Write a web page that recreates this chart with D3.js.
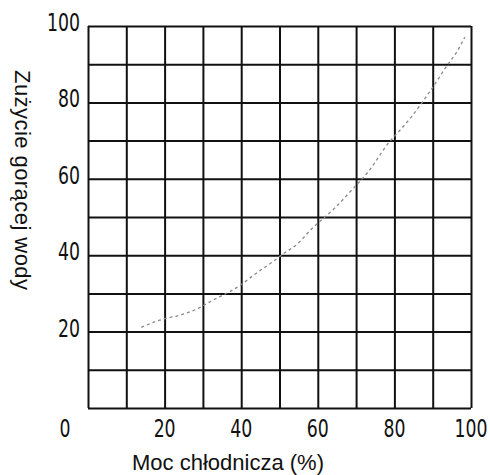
<!DOCTYPE html>
<html>
<head>
<meta charset="utf-8">
<script src="https://cdn.jsdelivr.net/npm/d3@7/dist/d3.min.js"></script>
<style>
  html, body { margin: 0; padding: 0; background: #fff; }
  svg { display: block; }
</style>
</head>
<body>
<svg id="chart" width="490" height="475"></svg>
<script>
// ---- data ----
const gridValues = [0, 10, 20, 30, 40, 50, 60, 70, 80, 90, 100];
const xTickLabels = [20, 40, 60, 80, 100];
const yTickLabels = [20, 40, 60, 80, 100];
const curveX = [13.9, 18.7, 23.9, 28.2, 31.7, 34.3, 36.9, 40.3, 42.9, 48.1, 52.5, 53.8, 58.5, 64.6, 68.9, 73.2, 78.4, 81.9, 84.5, 88.8, 90.9, 93.5, 96.1, 98.4];
const curveY = [21.1, 23.0, 24.3, 25.8, 27.7, 29.1, 30.4, 32.5, 34.5, 38.2, 41.4, 42.2, 47.0, 52.5, 57.1, 61.9, 69.3, 73.2, 76.3, 82.2, 85.3, 89.3, 92.9, 97.1];
const xTitle = "Moc chłodnicza (%)";
const yTitle = "Zużycie gorącej wody";

// ---- layout ----
const svg = d3.select("#chart");
const pLeft = 88, pRight = 471, pTop = 26, pBottom = 408;
const x = d3.scaleLinear().domain([0, 100]).range([pLeft, pRight]);
const y = d3.scaleLinear().domain([0, 100]).range([pBottom, pTop]);

// grid (vertical)
svg.append("g")
  .attr("transform", `translate(0,${pBottom})`)
  .call(d3.axisBottom(x).tickValues(gridValues).tickSize(-(pBottom - pTop)).tickFormat(""))
  .call(g => g.select(".domain").remove())
  .call(g => g.selectAll("line").attr("stroke", "#111").attr("stroke-width", 2));

// grid (horizontal)
svg.append("g")
  .attr("transform", `translate(${pLeft},0)`)
  .call(d3.axisLeft(y).tickValues(gridValues).tickSize(-(pRight - pLeft)).tickFormat(""))
  .call(g => g.select(".domain").remove())
  .call(g => g.selectAll("line").attr("stroke", "#111").attr("stroke-width", 2));

// curve
const pts = curveX.map((v, i) => [v, curveY[i]]);
svg.append("path")
  .datum(pts)
  .attr("fill", "none")
  .attr("stroke", "#8a8a8a")
  .attr("stroke-width", 1.3)
  .attr("stroke-dasharray", "3,3")
  .attr("d", d3.line().x(d => x(d[0])).y(d => y(d[1])).curve(d3.curveMonotoneX));

const tickFont = "'Liberation Sans Narrow', 'DejaVu Sans Condensed', 'Liberation Sans', sans-serif";

// x tick labels
svg.append("g").selectAll("text")
  .data(xTickLabels)
  .join("text")
  .attr("transform", d => `translate(${x(d)},437) scale(0.8,1)`)
  .attr("text-anchor", "middle")
  .attr("font-family", tickFont)
  .attr("font-size", 24)
  .attr("fill", "#111")
  .text(d => d);

// y tick labels
svg.append("g").selectAll("text")
  .data(yTickLabels)
  .join("text")
  .attr("transform", d => `translate(${pLeft - 8},${y(d) + 5}) scale(0.8,1)`)
  .attr("text-anchor", "end")
  .attr("font-family", tickFont)
  .attr("font-size", 24)
  .attr("fill", "#111")
  .text(d => d);

// corner zero
svg.append("text")
  .attr("transform", `translate(${pLeft - 23},437) scale(0.8,1)`)
  .attr("text-anchor", "middle")
  .attr("font-family", tickFont)
  .attr("font-size", 24)
  .attr("fill", "#111")
  .text("0");

// axis titles
svg.append("text")
  .attr("x", 228).attr("y", 470)
  .attr("text-anchor", "middle")
  .attr("font-family", "'Liberation Sans', Arial, sans-serif")
  .attr("font-size", 22)
  .attr("fill", "#111")
  .text(xTitle);

svg.append("text")
  .attr("transform", "translate(15,70) rotate(90)")
  .attr("text-anchor", "start")
  .attr("font-family", "'Liberation Sans', Arial, sans-serif")
  .attr("font-size", 22)
  .attr("textLength", 220)
  .attr("lengthAdjust", "spacing")
  .attr("fill", "#111")
  .text(yTitle);
</script>
</body>
</html>
